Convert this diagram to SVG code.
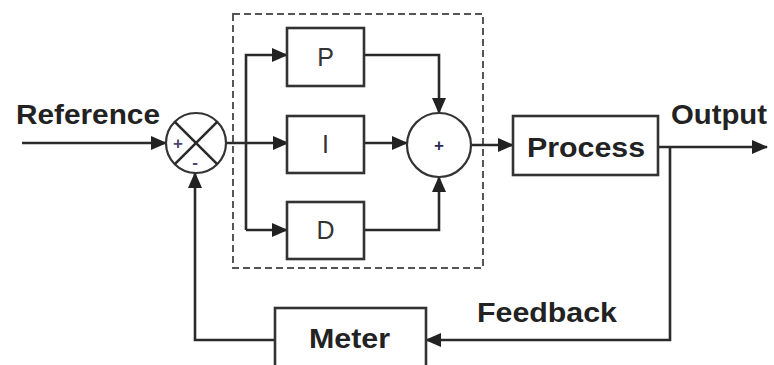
<svg xmlns="http://www.w3.org/2000/svg" width="774" height="365" viewBox="0 0 774 365">
<defs>
<marker id="ah" markerUnits="userSpaceOnUse" markerWidth="16" markerHeight="14" refX="15" refY="7" orient="auto">
<path d="M0,0 L16,7 L0,14 Z" fill="#222"/>
</marker>
<style>
.ln{fill:none;stroke:#2a2a2a;stroke-width:2.6}
.bx{fill:#fff;stroke:#333;stroke-width:2.6}
.cj{fill:#fff;stroke:#333;stroke-width:2.2}
.lb{font-family:"Liberation Sans",Arial,sans-serif;font-weight:bold;font-size:27px;fill:#222}
.pid{font-family:"Liberation Sans",Arial,sans-serif;font-size:25px;fill:#333;text-anchor:middle}
.sg{font-family:"Liberation Sans",Arial,sans-serif;font-size:17px;font-weight:bold;fill:#4a4670;text-anchor:middle}
</style>
</defs>
<rect width="774" height="365" fill="#fff"/>
<rect x="233" y="14" width="250" height="254" fill="none" stroke="#555" stroke-width="2" stroke-dasharray="7,4"/>
<g id="connectors">
<path class="ln" d="M22,143 H166" marker-end="url(#ah)"/>
<path class="ln" d="M226,143 H288" marker-end="url(#ah)"/>
<path class="ln" d="M246,230 V55 H287" marker-end="url(#ah)"/>
<path class="ln" d="M246,230 H287" marker-end="url(#ah)"/>
<path class="ln" d="M364,55 H439 V113" marker-end="url(#ah)"/>
<path class="ln" d="M364,143 H407" marker-end="url(#ah)"/>
<path class="ln" d="M364,230 H439 V177" marker-end="url(#ah)"/>
<path class="ln" d="M471,145 H513" marker-end="url(#ah)"/>
<path class="ln" d="M658,147 H767" marker-end="url(#ah)"/>
<path class="ln" d="M670,147 V340 H426" marker-end="url(#ah)"/>
<path class="ln" d="M275,340 H195 V173" marker-end="url(#ah)"/>
</g>
<g id="error-junction">
<circle cx="196" cy="143" r="30" class="cj"/>
<path class="ln" d="M174.8,121.8 L217.2,164.2 M217.2,121.8 L174.8,164.2" stroke-width="2"/>
<text x="178" y="149" class="sg">+</text>
<text x="195" y="168" class="sg">-</text>
</g>
<g id="P">
<rect x="287" y="28" width="77" height="58" class="bx"/>
<text x="325.5" y="66" class="pid">P</text>
</g>
<g id="I">
<rect x="287" y="116" width="77" height="57" class="bx"/>
<text x="325.5" y="153" class="pid">I</text>
</g>
<g id="D">
<rect x="287" y="202" width="77" height="57" class="bx"/>
<text x="325.5" y="239" class="pid">D</text>
</g>
<g id="sum-junction">
<circle cx="439" cy="145" r="32" class="cj"/>
<text x="439" y="151" class="sg" style="fill:#2a2a55">+</text>
</g>
<g id="process">
<rect x="513" y="116" width="145" height="59" class="bx"/>
<text x="527" y="157" class="lb" textLength="118" lengthAdjust="spacingAndGlyphs">Process</text>
</g>
<g id="meter">
<rect x="275" y="308" width="151" height="70" class="bx"/>
<text x="309" y="348" class="lb" textLength="81" lengthAdjust="spacingAndGlyphs">Meter</text>
</g>
<text x="16" y="124" class="lb" textLength="144" lengthAdjust="spacingAndGlyphs">Reference</text>
<text x="671" y="124" class="lb" textLength="96" lengthAdjust="spacingAndGlyphs">Output</text>
<text x="477" y="322" class="lb" textLength="140" lengthAdjust="spacingAndGlyphs">Feedback</text>
</svg>
